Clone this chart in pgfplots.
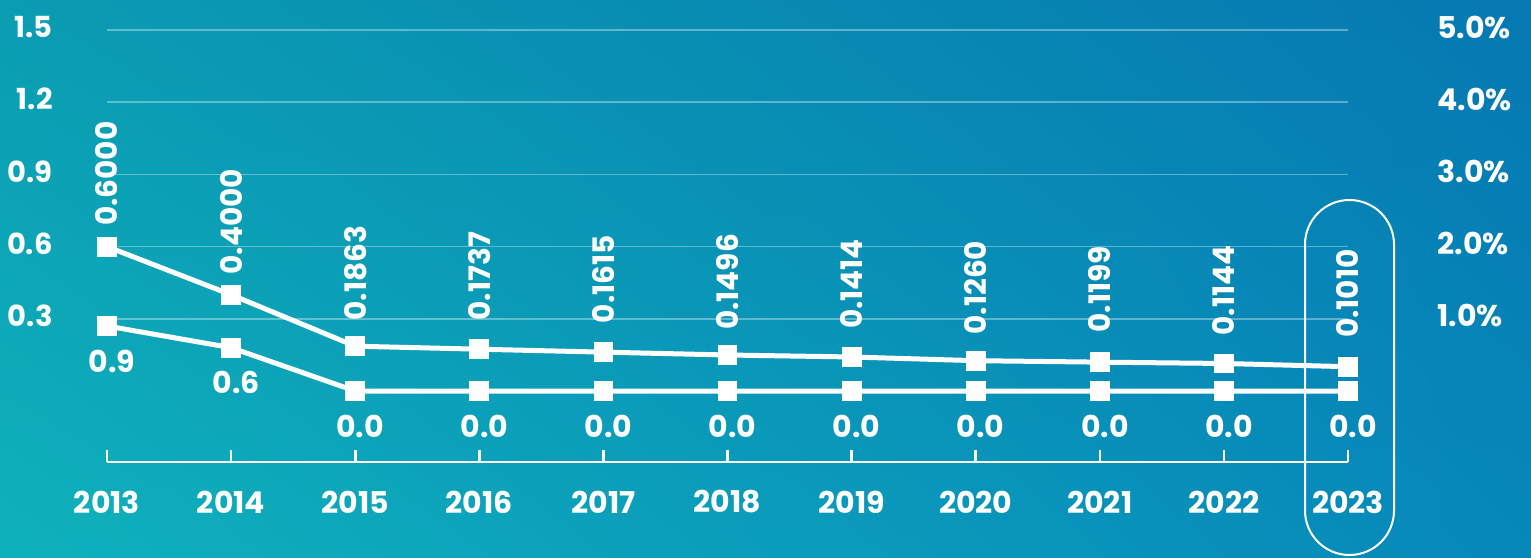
\documentclass[border=0pt]{standalone}
\usepackage{fontspec}
\setmainfont{Poppins}
\usepackage{pgfplots}
\usepackage{pgfplotstable}
\usetikzlibrary{shadings}
\pgfplotsset{compat=1.18}
\definecolor{bgUL}{RGB}{10,156,178}
\definecolor{bgUR}{RGB}{6,120,178}
\definecolor{bgLL}{RGB}{15,178,188}
\definecolor{bgLR}{RGB}{6,136,186}

\pgfplotstableread{
x y
0 0.6000
1 0.4000
2 0.1863
3 0.1737
4 0.1615
5 0.1496
6 0.1414
7 0.1260
8 0.1199
9 0.1144
10 0.1010
}\upperdata

\pgfplotstableread{
x y
0 0.9
1 0.6
2 0.0
3 0.0
4 0.0
5 0.0
6 0.0
7 0.0
8 0.0
9 0.0
10 0.0
}\lowerdata

\pgfplotsset{
  base/.style={
    at={(53.5pt,-231pt)}, anchor=south west,
    scale only axis, width=620.5pt, height=216pt,
    xmin=0, xmax=10, clip=false,
  },
}

\begin{document}
\begin{tikzpicture}[x=0.5pt,y=-0.5pt]
\shade[upper left=bgUL, upper right=bgUR, lower left=bgLL, lower right=bgLR] (0,0) rectangle (1531,557);

\begin{axis}[base,
  ymin=-0.295, ymax=1.5,
  axis x line*=bottom, axis y line*=left,
  x axis line style={white, line width=1.3pt, -},
  y axis line style={draw=none},
  xtick={0,...,10},
  xticklabels={2013,2014,2015,2016,2017,2018,2019,2020,2021,2022,2023},
  xtick align=inside, major tick length=6pt,
  xtick style={white, line width=1.3pt},
  ytick={0.3,0.6,0.9,1.2,1.5},
  yticklabels={0.3,0.6,0.9,1.2,1.5},
  ytick style={draw=none},
  ymajorgrids, grid style={white, opacity=0.35, line width=0.75pt},
  xticklabel style={font=\bfseries\fontsize{15}{18}\selectfont, text=white, anchor=center, inner sep=0pt, yshift=-20pt},
  yticklabel style={font=\bfseries\fontsize{14.5}{17}\selectfont, text=white, anchor=east, inner sep=0pt, xshift=-27pt, yshift=1.5pt},
]
\addplot[white, line width=2.5pt, mark=square*, mark size=4.7pt,
  mark options={solid, line width=0.5pt},
  nodes near coords={\pgfmathprintnumber[fixed,fixed zerofill,precision=4,assume math mode=true]{\pgfplotspointmeta}},
  every node near coord/.append style={font=\bfseries\fontsize{14.8}{17}\selectfont, text=white, anchor=center, inner sep=0pt, yshift=36.5pt, rotate=90},
] table[x=x,y=y]{\upperdata};
\end{axis}

\begin{axis}[base,
  ymin=-0.98333, ymax=5,
  axis y line*=right, axis x line=none,
  y axis line style={draw=none},
  xtick=\empty,
  ytick={1,2,3,4,5},
  yticklabels={1.0\%,2.0\%,3.0\%,4.0\%,5.0\%},
  ytick style={draw=none},
  yticklabel style={font=\bfseries\fontsize{15}{18}\selectfont, text=white, anchor=west, inner sep=0pt, xshift=44.5pt, yshift=1.5pt},
]
\addplot[white, line width=2.5pt, mark=square*, mark size=4.7pt,
  mark options={solid, line width=0.5pt},
  nodes near coords={\pgfmathprintnumber[fixed,fixed zerofill,precision=1,assume math mode=true]{\pgfplotspointmeta}},
  every node near coord/.append style={font=\bfseries\fontsize{15}{18}\selectfont, text=white, anchor=center, inner sep=0pt, yshift=-17.5pt, xshift=2.5pt},
] table[x=x,y=y]{\lowerdata};
\end{axis}

\draw[white, line width=1pt, rounded corners=22.25pt] (1305,200) rectangle (1394,555);

\pgfresetboundingbox
\path[use as bounding box] (0,0) rectangle (1531,557);
\end{tikzpicture}
\end{document}
